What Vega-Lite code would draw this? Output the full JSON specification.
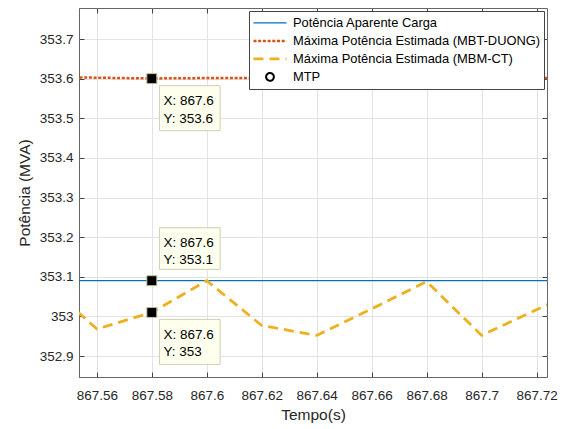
{
  "$schema": "https://vega.github.io/schema/vega-lite/v6.json",
  "width": 468,
  "height": 369,
  "autosize": {"type": "none"},
  "padding": {"left": 79, "top": 8, "right": 20, "bottom": 52},
  "background": "white",
  "config": {
    "font": "Liberation Sans",
    "view": {"stroke": "#666", "strokeWidth": 1},
    "axis": {
      "labelFont": "Liberation Sans",
      "labelFontSize": 13.5,
      "labelColor": "#262626",
      "titleFont": "Liberation Sans",
      "titleFontSize": 15.5,
      "titleFontWeight": "normal",
      "titleColor": "#262626",
      "domainColor": "#666",
      "tickColor": "#444",
      "tickSize": -5,
      "gridColor": "#e3e3e3",
      "gridWidth": 1
    }
  },
  "datasets": {
    "lines": [
      {"t": 867.54, "v": 353.09, "serie": "Potência Aparente Carga"},
      {"t": 867.74, "v": 353.09, "serie": "Potência Aparente Carga"},
      {"t": 867.54, "v": 353.6035, "serie": "Máxima Potência Estimada (MBT-DUONG)"},
      {"t": 867.56, "v": 353.6025, "serie": "Máxima Potência Estimada (MBT-DUONG)"},
      {"t": 867.58, "v": 353.6005, "serie": "Máxima Potência Estimada (MBT-DUONG)"},
      {"t": 867.60, "v": 353.6015, "serie": "Máxima Potência Estimada (MBT-DUONG)"},
      {"t": 867.62, "v": 353.602, "serie": "Máxima Potência Estimada (MBT-DUONG)"},
      {"t": 867.64, "v": 353.601, "serie": "Máxima Potência Estimada (MBT-DUONG)"},
      {"t": 867.66, "v": 353.6005, "serie": "Máxima Potência Estimada (MBT-DUONG)"},
      {"t": 867.68, "v": 353.6015, "serie": "Máxima Potência Estimada (MBT-DUONG)"},
      {"t": 867.70, "v": 353.602, "serie": "Máxima Potência Estimada (MBT-DUONG)"},
      {"t": 867.72, "v": 353.6015, "serie": "Máxima Potência Estimada (MBT-DUONG)"},
      {"t": 867.74, "v": 353.601, "serie": "Máxima Potência Estimada (MBT-DUONG)"},
      {"t": 867.54, "v": 353.092, "serie": "Máxima Potência Estimada (MBM-CT)"},
      {"t": 867.56, "v": 352.968, "serie": "Máxima Potência Estimada (MBM-CT)"},
      {"t": 867.58, "v": 353.010, "serie": "Máxima Potência Estimada (MBM-CT)"},
      {"t": 867.60, "v": 353.090, "serie": "Máxima Potência Estimada (MBM-CT)"},
      {"t": 867.62, "v": 352.977, "serie": "Máxima Potência Estimada (MBM-CT)"},
      {"t": 867.64, "v": 352.952, "serie": "Máxima Potência Estimada (MBM-CT)"},
      {"t": 867.66, "v": 353.019, "serie": "Máxima Potência Estimada (MBM-CT)"},
      {"t": 867.68, "v": 353.088, "serie": "Máxima Potência Estimada (MBM-CT)"},
      {"t": 867.70, "v": 352.952, "serie": "Máxima Potência Estimada (MBM-CT)"},
      {"t": 867.72, "v": 353.017, "serie": "Máxima Potência Estimada (MBM-CT)"},
      {"t": 867.74, "v": 353.080, "serie": "Máxima Potência Estimada (MBM-CT)"}
    ],
    "tips": [
      {"t": 867.58, "v": 353.6, "tip": "X: 867.6\nY: 353.6", "serie": "DUONG"},
      {"t": 867.58, "v": 353.09, "tip": "X: 867.6\nY: 353.1", "serie": "Carga"},
      {"t": 867.58, "v": 353.01, "tip": "X: 867.6\nY: 353", "serie": "CT"}
    ]
  },
  "layer": [
    {
      "data": {"name": "lines"},
      "mark": {"type": "line", "clip": true},
      "encoding": {
        "x": {
          "field": "t", "type": "quantitative",
          "scale": {"domain": [867.5535, 867.7238], "nice": false, "zero": false},
          "axis": {
            "title": "Tempo(s)",
            "values": [867.56, 867.58, 867.6, 867.62, 867.64, 867.66, 867.68, 867.7, 867.72],
            "format": ".2~f",
            "labelPadding": 16,
            "titlePadding": 6
          }
        },
        "y": {
          "field": "v", "type": "quantitative",
          "scale": {"domain": [352.847, 353.7783], "nice": false, "zero": false},
          "axis": {
            "title": "Potência (MVA)",
            "values": [352.9, 353, 353.1, 353.2, 353.3, 353.4, 353.5, 353.6, 353.7],
            "format": ".1~f",
            "labelPadding": 11,
            "titlePadding": 7
          }
        },
        "color": {
          "field": "serie", "type": "nominal",
          "scale": {
            "domain": ["Potência Aparente Carga", "Máxima Potência Estimada (MBT-DUONG)", "Máxima Potência Estimada (MBM-CT)", "MTP"],
            "range": ["#0072BD", "#D95319", "#EDB120", "#000000"]
          },
          "legend": {
            "title": null,
            "orient": "top-right",
            "offset": 3,
            "padding": 3,
            "fillColor": "white",
            "strokeColor": "#444",
            "labelFont": "Liberation Sans",
            "labelFontSize": 12.9,
            "labelColor": "#000",
            "labelOffset": 5,
            "labelLimit": 400,
            "symbolType": "stroke",
            "symbolSize": 1089,
            "clipHeight": 17.8,
            "rowPadding": 0,
            "encode": {
              "symbols": {
                "update": {
                  "shape": {"signal": "datum.value === 'MTP' ? 'circle' : 'stroke'"},
                  "size": {"signal": "datum.value === 'MTP' ? 60 : 1089"},
                  "strokeWidth": {"signal": "datum.value === 'MTP' ? 2.5 : (datum.value === 'Potência Aparente Carga' ? 1.3 : 2.5)"},
                  "fill": {"value": "transparent"}
                }
              }
            }
          }
        },
        "strokeDash": {
          "field": "serie", "type": "nominal",
          "scale": {
            "domain": ["Potência Aparente Carga", "Máxima Potência Estimada (MBT-DUONG)", "Máxima Potência Estimada (MBM-CT)", "MTP"],
            "range": [[1, 0], [3, 1.7], [10, 6], [1, 0]]
          },
          "legend": null
        },
        "strokeWidth": {
          "field": "serie", "type": "nominal",
          "scale": {
            "type": "ordinal",
            "domain": ["Potência Aparente Carga", "Máxima Potência Estimada (MBT-DUONG)", "Máxima Potência Estimada (MBM-CT)", "MTP"],
            "range": [1.2, 2.5, 2.8, 2]
          },
          "legend": null
        }
      }
    },
    {
      "data": {"name": "tips"},
      "mark": {"type": "point", "shape": "square", "size": 100, "filled": true, "fill": "#000", "stroke": "#C9C29A", "strokeWidth": 1, "opacity": 1},
      "encoding": {
        "x": {"field": "t", "type": "quantitative", "axis": {"orient": "top", "labels": false, "title": null, "grid": false, "domain": false, "values": [867.56, 867.58, 867.6, 867.62, 867.64, 867.66, 867.68, 867.7, 867.72]}},
        "y": {"field": "v", "type": "quantitative", "axis": {"orient": "right", "labels": false, "title": null, "grid": false, "domain": false, "values": [352.9, 353, 353.1, 353.2, 353.3, 353.4, 353.5, 353.6, 353.7]}}
      }
    },
    {
      "data": {"name": "tips"},
      "transform": [{"filter": "datum.serie !== 'Carga'"}],
      "mark": {"type": "rect", "fill": "#FFFFEE", "stroke": "#CFCFB8", "strokeWidth": 1, "xOffset": 7.6, "x2Offset": 68.3, "yOffset": 7, "y2Offset": 52},
      "encoding": {
        "x": {"field": "t", "type": "quantitative", "axis": null},
        "x2": {"field": "t"},
        "y": {"field": "v", "type": "quantitative", "axis": null},
        "y2": {"field": "v"}
      }
    },
    {
      "data": {"name": "tips"},
      "transform": [{"filter": "datum.serie === 'Carga'"}],
      "mark": {"type": "rect", "fill": "#FFFFEE", "stroke": "#CFCFB8", "strokeWidth": 1, "xOffset": 7.6, "x2Offset": 68.3, "yOffset": -53, "y2Offset": -11.3},
      "encoding": {
        "x": {"field": "t", "type": "quantitative", "axis": null},
        "x2": {"field": "t"},
        "y": {"field": "v", "type": "quantitative", "axis": null},
        "y2": {"field": "v"}
      }
    },
    {
      "data": {"name": "tips"},
      "transform": [{"filter": "datum.serie !== 'Carga'"}],
      "mark": {"type": "text", "align": "left", "baseline": "middle", "dx": 11.6, "dy": 22.3, "lineBreak": "\n", "lineHeight": 17.7, "font": "Liberation Sans", "fontSize": 13.5, "color": "#000"},
      "encoding": {
        "x": {"field": "t", "type": "quantitative", "axis": null},
        "y": {"field": "v", "type": "quantitative", "axis": null},
        "text": {"field": "tip"}
      }
    },
    {
      "data": {"name": "tips"},
      "transform": [{"filter": "datum.serie === 'Carga'"}],
      "mark": {"type": "text", "align": "left", "baseline": "middle", "dx": 11.6, "dy": -38, "lineBreak": "\n", "lineHeight": 17.7, "font": "Liberation Sans", "fontSize": 13.5, "color": "#000"},
      "encoding": {
        "x": {"field": "t", "type": "quantitative", "axis": null},
        "y": {"field": "v", "type": "quantitative", "axis": null},
        "text": {"field": "tip"}
      }
    }
  ],
  "resolve": {"axis": {"x": "independent", "y": "independent"}}
}
